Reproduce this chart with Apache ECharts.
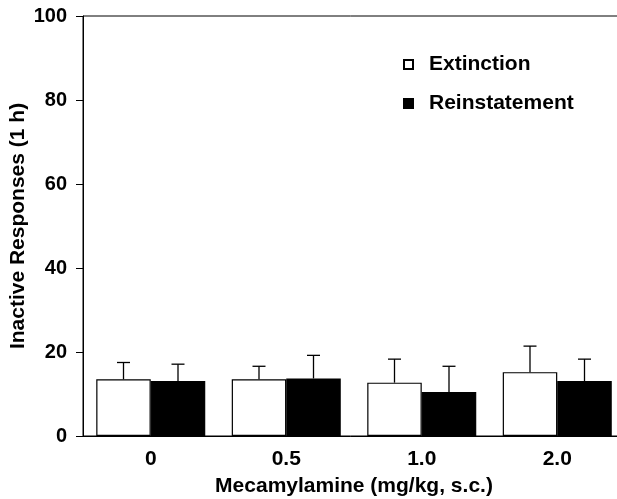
<!DOCTYPE html>
<html>
<head>
<meta charset="utf-8">
<script src="https://cdn.jsdelivr.net/npm/echarts@6/dist/echarts.min.js"></script>
<style>html,body{margin:0;padding:0;background:#fff}#c{width:617px;height:499px}</style>
</head>
<body>
<div id="c"></div>
<script>
var categories = ['0', '0.5', '1.0', '2.0'];
var extinction = [13.5, 13.5, 12.7, 15.2];
var extinctionErr = [4.0, 3.1, 5.6, 6.2];
var reinstatement = [13.1, 13.7, 10.5, 13.1];
var reinstatementErr = [4.0, 5.5, 6.1, 5.2];
var yTicks = [0, 20, 40, 60, 80, 100];

var FONT = 'Liberation Sans, Arial, Helvetica, sans-serif';
var BAR_W = 54.5;
var chart = echarts.init(document.getElementById('c'));

function errSeries(name, means, errs, side) {
  return {
    type: 'custom',
    name: name + ' err',
    z: 1,
    silent: true,
    data: means.map(function (m, i) { return [i, m, m + errs[i]]; }),
    renderItem: function (params, api) {
      var base = api.coord([api.value(0), api.value(1)]);
      var top = api.coord([api.value(0), api.value(2)]);
      var x = base[0] + side * BAR_W / 2;
      var cap = 6.5;
      var st = { stroke: '#000', lineWidth: 1.3 };
      return {
        type: 'group',
        children: [
          { type: 'line', shape: { x1: x, y1: base[1], x2: x, y2: top[1] }, style: st },
          { type: 'line', shape: { x1: x - cap, y1: top[1], x2: x + cap, y2: top[1] }, style: st }
        ]
      };
    }
  };
}

chart.setOption({
  animation: false,
  backgroundColor: '#fff',
  textStyle: { fontFamily: FONT },
  grid: { left: 83, top: 16, bottom: 63, width: 542, outerBoundsMode: 'none', containLabel: false, show: true, borderColor: '#000', borderWidth: 1, backgroundColor: 'transparent' },
  legend: {
    orient: 'vertical',
    left: 398, top: 49,
    icon: 'rect',
    itemWidth: 9, itemHeight: 9, itemGap: 18,
    data: ['Extinction', 'Reinstatement'],
    textStyle: { fontFamily: FONT, fontWeight: 'bold', fontSize: 21, color: '#000', padding: [0, 0, 0, 11] }
  },
  xAxis: {
    type: 'category',
    data: categories,
    name: 'Mecamylamine (mg/kg, s.c.)',
    nameLocation: 'middle',
    nameGap: 40,
    nameMoveOverlap: false,
    nameTextStyle: { fontFamily: FONT, fontWeight: 'bold', fontSize: 21, color: '#000' },
    axisLine: { lineStyle: { color: '#000', width: 1 } },
    axisTick: { show: false },
    axisLabel: { fontFamily: FONT, fontWeight: 'bold', fontSize: 21, color: '#000', margin: 13 }
  },
  yAxis: {
    type: 'value',
    min: 0, max: 100, interval: 20,
    name: 'Inactive Responses (1 h)',
    nameLocation: 'middle',
    nameGap: 54,
    nameMoveOverlap: false,
    nameTextStyle: { fontFamily: FONT, fontWeight: 'bold', fontSize: 21, color: '#000' },
    axisLine: { show: true, lineStyle: { color: '#000', width: 1 } },
    axisTick: { show: true, length: 7, lineStyle: { color: '#000' } },
    splitLine: { show: false },
    axisLabel: {
      fontFamily: FONT, fontWeight: 'bold', fontSize: 20, color: '#000', margin: 16,
      formatter: function (v) { return yTicks.indexOf(v) >= 0 ? String(v) : ''; }
    }
  },
  series: [
    {
      type: 'bar', name: 'Extinction', data: extinction,
      barWidth: BAR_W, barGap: '0%', z: 2,
      itemStyle: { color: '#fff', borderColor: '#000', borderWidth: 1.2 }
    },
    {
      type: 'bar', name: 'Reinstatement', data: reinstatement,
      barWidth: BAR_W, barGap: '0%', z: 2,
      itemStyle: { color: '#000', borderColor: '#000', borderWidth: 1.2 }
    },
    errSeries('Extinction', extinction, extinctionErr, -1),
    errSeries('Reinstatement', reinstatement, reinstatementErr, 1)
  ]
});
</script>
</body>
</html>
